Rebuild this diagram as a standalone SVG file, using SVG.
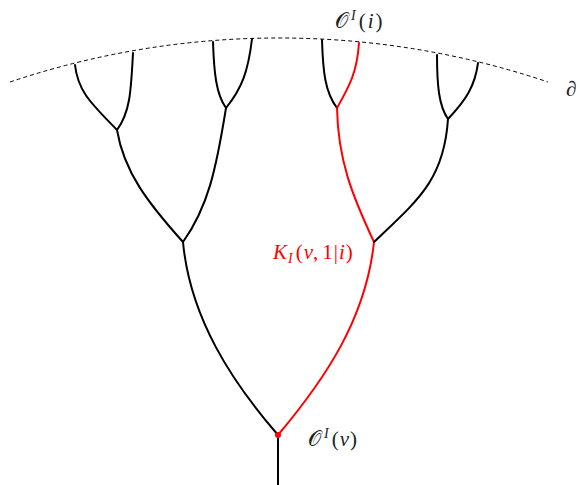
<svg xmlns="http://www.w3.org/2000/svg" width="580" height="485" viewBox="0 0 580 485">
<style>
.e{fill:none;stroke:#000;stroke-width:2;stroke-linecap:round}
.r{stroke:#f00}
.bd{fill:none;stroke:#000;stroke-width:1;stroke-dasharray:4 3}
.t{font-family:"Liberation Serif","DejaVu Serif",serif;font-size:21px;fill:#222}
.i{font-style:italic}
</style>
<rect width="580" height="485" fill="#fff"/>
<g id="boundary"><path class="bd" d="M10,82 A844,844 0 0 1 548,82"/></g>
<g id="connectors">
<path class="e" d="M278,485 L278,435"/>
<path class="e" d="M278,435 C232,382 190,318 183,242"/>
<path class="e r" d="M278,435 C326,378 366,318 374,242"/>
<path class="e" d="M183,242 C148,203 124,172 117,130"/>
<path class="e" d="M183,242 C208,207 216,170 226,108"/>
<path class="e r" d="M374,242 C352,195 338,160 337,108"/>
<path class="e" d="M374,242 C418,200 444,180 448,119"/>
<path class="e" d="M117,130 C92,104 78,92 75,65"/>
<path class="e" d="M117,130 C130,112 131,92 133,53"/>
<path class="e" d="M226,108 C216,94 214,72 213,42"/>
<path class="e" d="M226,108 C242,88 248,72 252,39"/>
<path class="e" d="M337,108 C325,92 323,72 322,40"/>
<path class="e r" d="M337,108 C350,85 357,72 359,43"/>
<path class="e" d="M448,119 C439,106 437,86 437,55"/>
<path class="e" d="M448,119 C466,100 475,86 478,63"/>
</g>
<g id="root"><circle cx="278" cy="435" r="3" fill="#f00"/>
<text class="t" x="308" y="446">𝒪<tspan font-size="14" class="i" dx="3" dy="-8">I</tspan><tspan dx="3" dy="8">(</tspan><tspan class="i" dx="1">v</tspan><tspan dx="1">)</tspan></text></g>
<g id="leaf-label"><text class="t" x="335" y="28">𝒪<tspan font-size="14" class="i" dx="3" dy="-8">I</tspan><tspan dx="3" dy="8">(</tspan><tspan class="i" dx="2">i</tspan><tspan dx="2">)</tspan></text></g>
<g id="k-label"><text class="t" x="273" y="259" style="fill:#f00"><tspan class="i">K</tspan><tspan class="i" font-size="14" dx="1" dy="4">I</tspan><tspan dx="3" dy="-4">(</tspan><tspan class="i" dx="1">v</tspan>,<tspan dx="4">1</tspan><tspan dx="1">|</tspan><tspan class="i" dx="1">i</tspan><tspan dx="1">)</tspan></text></g>
<g id="partial"><text class="t i" x="566" y="96" font-size="26">∂</text></g>
</svg>
